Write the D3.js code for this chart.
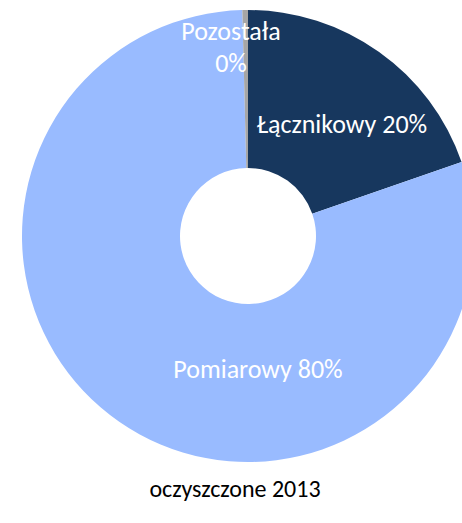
<html lang="pl">
<head>
    <meta charset="utf-8">
    <title>oczyszczone 2013</title>
    <style>
        body {
            margin: 0;
            background-color: white;
        }
        svg text {
            font-family: Calibri, Carlito, Lato, sans-serif;
        }
    </style>
</head>
<body>
<div id="chart"></div>
<script src="https://d3js.org/d3.v7.min.js" type="text/javascript"></script>
<script>
    // data, in Excel's clockwise order from 12 o'clock
    var categories = ["Łącznikowy", "Pomiarowy", "Pozostała"];
    var shares = [19.7, 79.9, 0.4];
    var sliceColors = ["#17375e", "#99bbff", "#a6a6a6"];
    var chartTitle = "oczyszczone 2013";

    var width = 462;
    var height = 523;
    var cx = 248, cy = 236;
    var outerR = 226, innerR = 68;

    var svg = d3.select("#chart")
        .append("svg")
        .attr("width", width)
        .attr("height", height);

    var data = categories.map((c, i) => ({name: c, value: shares[i], color: sliceColors[i]}));
    var total = d3.sum(shares);

    var pie = d3.pie()
        .sort(null)
        .value(d => d.value);
    var arc = d3.arc()
        .innerRadius(innerR)
        .outerRadius(outerR);

    var g = svg.append("g")
        .attr("transform", "translate(" + cx + "," + cy + ")");

    g.selectAll(".slice")
        .data(pie(data))
        .enter()
        .append("path")
        .classed("slice", true)
        .attr("d", arc)
        .attr("fill", d => d.data.color);

    // label spots relative to the centre, tuned by eye
    var labelPos = {
        "Łącznikowy": {x: 94, y: -103, lines: 1},
        "Pomiarowy": {x: 10, y: 142, lines: 1},
        "Pozostała": {x: -17, y: -196, lines: 2}
    };

    pie(data).forEach(function(d) {
        var pct = Math.round(d.data.value / total * 100) + "%";
        var p = labelPos[d.data.name];
        var t = g.append("text")
            .attr("x", p.x)
            .attr("y", p.y)
            .attr("text-anchor", "middle")
            .attr("fill", "white")
            .style("font-size", "26px");
        if (p.lines === 2) {
            t.append("tspan").attr("x", p.x).text(d.data.name);
            t.append("tspan").attr("x", p.x).attr("dy", 32).text(pct);
        } else {
            t.text(d.data.name + " " + pct);
        }
    });

    svg.append("text")
        .attr("x", 235)
        .attr("y", 497)
        .attr("text-anchor", "middle")
        .attr("fill", "black")
        .style("font-size", "24px")
        .text(chartTitle);
</script>
</body>
</html>
